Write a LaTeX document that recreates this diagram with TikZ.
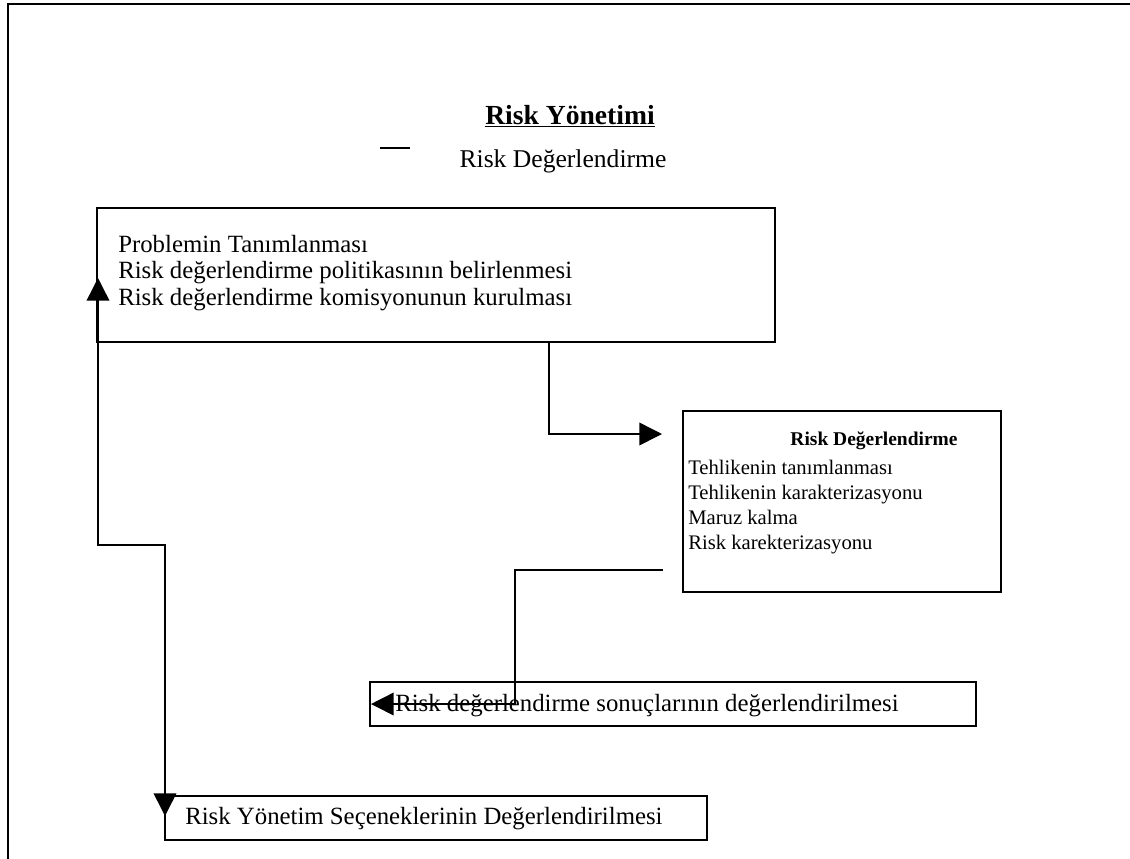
\documentclass[tikz,border=0pt]{standalone}
\usepackage{fontspec}
\setmainfont{Liberation Serif}
\usetikzlibrary{arrows.meta,fit}
\begin{document}
\begin{tikzpicture}[x=0.75pt,y=-0.75pt,
  box/.style={draw,line width=1.3pt,inner sep=0pt},
  txt/.style={inner sep=0pt,align=left,font=\fontsize{18.6}{20}\selectfont},
  conn/.style={line width=1.1pt},
  tip/.style={-{Triangle[length=17pt,width=17pt]}},
  bothtips/.style={{Triangle[length=17pt,width=17pt]}-{Triangle[length=17pt,width=17pt]}},
]
\useasboundingbox (0,0) rectangle (1130,858);
% page frame
\draw[line width=2.2pt] (8,860) -- (8,4) -- (1132,4);

% headings
\node[inner sep=0pt,font=\fontsize{20.7}{24}\selectfont\bfseries] (title) at (570,116) {\underline{Risk Yönetimi}};
\coordinate (dashA) at (380,148);
\coordinate (dashB) at (410,148);
\draw[line width=1.1pt] (dashA) -- (dashB);
\node[inner sep=0pt,font=\fontsize{19.2}{22}\selectfont] (sub) at (563,161) {Risk Değerlendirme};

% box 1: problem definition
\node[box,fit={(97,208) (775,342)}] (b1) {};
\node[txt,anchor=west] (t1) at (118,273) {Problemin Tanımlanması\\Risk değerlendirme politikasının belirlenmesi\\Risk değerlendirme komisyonunun kurulması};

% box 2: risk assessment
\node[box,fit={(683,411) (1001,592)}] (b2) {};
\node[inner sep=0pt,font=\fontsize{14.6}{18}\selectfont\bfseries] (t2h) at (874,441) {Risk Değerlendirme};
\node[txt,anchor=west,font=\fontsize{15.5}{18.75}\selectfont] (t2) at (688,507) {Tehlikenin tanımlanması\\Tehlikenin karakterizasyonu\\Maruz kalma\\Risk karekterizasyonu};

% box 3: evaluation of results
\node[box,fit={(370,682) (976,726)}] (b3) {};
\node[txt,anchor=west] (t3) at (395,706) {Risk değerlendirme sonuçlarının değerlendirilmesi};

% box 4: management options
\node[box,fit={(165,796) (707,840)}] (b4) {};
\node[txt,anchor=west] (t4) at (185,819) {Risk Yönetim Seçeneklerinin Değerlendirilmesi};

% connector b1 -> b2
\coordinate (c1s) at (437,342);
\coordinate (c1e) at (662,434);
\draw[conn,tip] (c1s) -- (549,342) |- (c1e);

% connector b2 -> b3
\coordinate (c2s) at (663,570);
\coordinate (c2e) at (371,704);
\draw[conn,tip] (c2s) -| (515,704) -- (c2e);

% connector b1 <-> b4
\coordinate (c3a) at (98,278);
\coordinate (c3b) at (165,816);
\draw[conn,bothtips] (c3a) |- (165,545) -- (c3b);
\end{tikzpicture}
\end{document}
